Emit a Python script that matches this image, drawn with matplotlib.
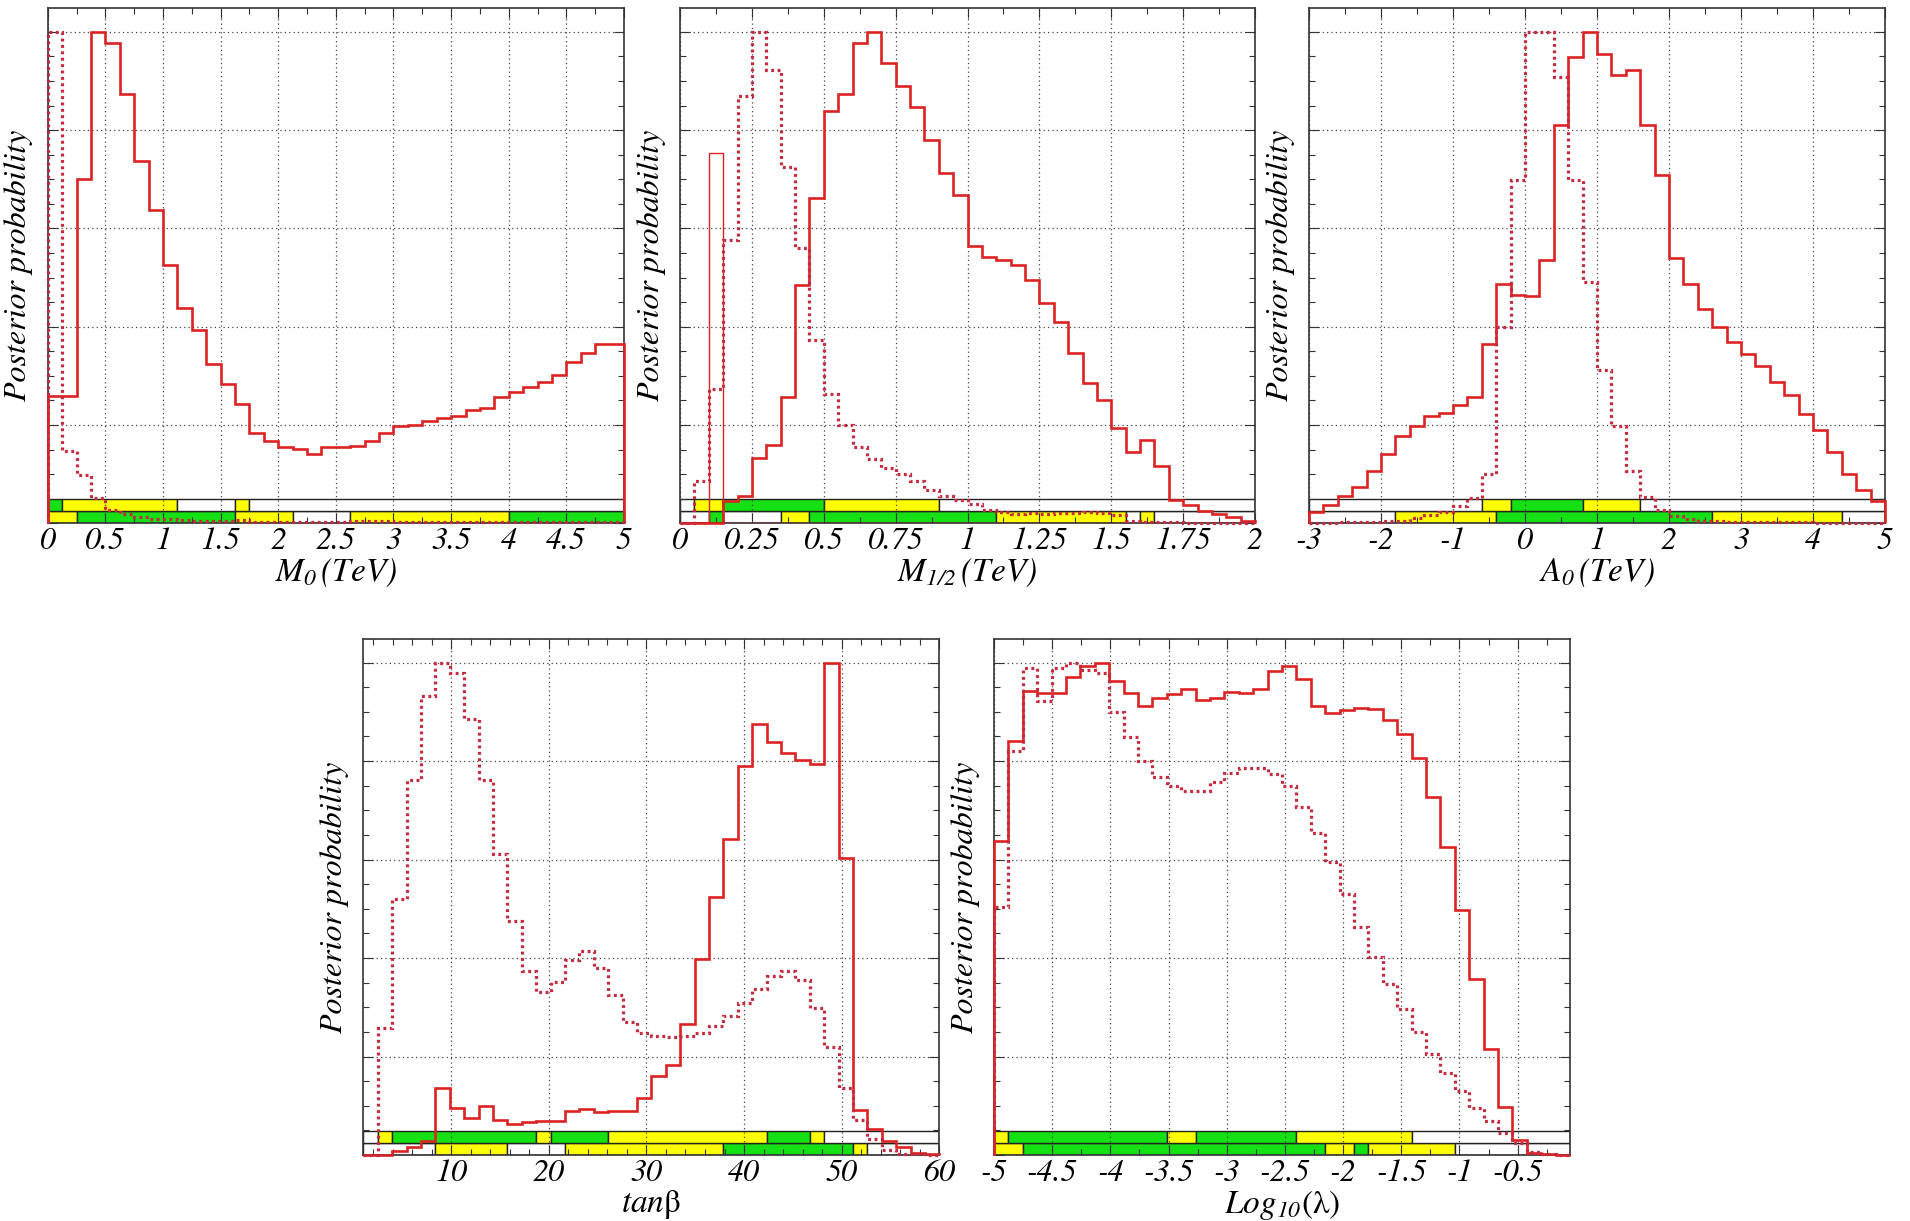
import numpy as np
import matplotlib
matplotlib.use('Agg')
from matplotlib import pyplot as plt
from matplotlib.patches import Rectangle
from matplotlib.ticker import MultipleLocator, FuncFormatter

plt.rcParams['font.family'] = ['STIXGeneral', 'Liberation Serif', 'DejaVu Serif']
plt.rcParams['font.style'] = 'italic'
plt.rcParams['mathtext.fontset'] = 'stix'
plt.rcParams['axes.unicode_minus'] = False

# ---------------- data (40 bins per panel, peak normalised to 1) ----------------
m0_range = (0, 5)
m0_solid = [0.259, 0.259, 0.700, 1.0, 0.977, 0.874, 0.738, 0.638, 0.526, 0.438,
            0.393, 0.324, 0.283, 0.243, 0.183, 0.168, 0.156, 0.152, 0.142, 0.155,
            0.155, 0.158, 0.168, 0.184, 0.198, 0.200, 0.208, 0.214, 0.218, 0.231,
            0.235, 0.256, 0.267, 0.277, 0.287, 0.302, 0.328, 0.347, 0.365, 0.365]
m0_dotted = [1.0, 0.147, 0.099, 0.051, 0.028, 0.018, 0.012, 0.009, 0.008, 0.006,
             0.005, 0.004, 0.004, 0.007, 0.003, 0.002, 0.002, 0.002, 0.002, 0.002,
             0.002, 0.004, 0.004, 0.004, 0.003, 0.003, 0.003, 0.003, 0.003, 0.003,
             0.003, 0.003, 0.002, 0.002, 0.002, 0.002, 0.002, 0.002, 0.002, 0.002]
# credible-interval bars: bin-index breaks and colours (g=68%, y=95%, w=outside)
m0_upper = ([0, 1, 9, 13, 14, 40], 'gywyw')
m0_lower = ([0, 2, 13, 17, 21, 32, 40], 'ygywyg')

m12_range = (0, 2)
m12_solid = [0, 0, 0, 0.046, 0.056, 0.132, 0.159, 0.257, 0.485, 0.661,
             0.840, 0.873, 0.978, 1.0, 0.937, 0.890, 0.847, 0.781, 0.712, 0.669,
             0.564, 0.541, 0.535, 0.525, 0.495, 0.448, 0.410, 0.347, 0.285, 0.251,
             0.193, 0.145, 0.170, 0.117, 0.048, 0.038, 0.025, 0.019, 0.012, 0.005]
m12_spike = [0, 0, 0.753] + [0] * 37
m12_dotted = [0, 0.086, 0.274, 0.577, 0.870, 1.0, 0.923, 0.726, 0.561, 0.373,
              0.264, 0.201, 0.155, 0.130, 0.113, 0.100, 0.086, 0.067, 0.055, 0.048,
              0.040, 0.028, 0.023, 0.019, 0.020, 0.018, 0.020, 0.021, 0.022, 0.020,
              0.017, 0.005, 0.003, 0.002, 0.002, 0.001, 0.001, 0.001, 0.001, 0.001]
m12_upper = ([0, 1, 3, 10, 18, 40], 'wygyw')
m12_lower = ([0, 2, 3, 7, 9, 22, 31, 32, 33, 40], 'wgwygywyw')

a0_range = (-3, 5)
a0_solid = [0.023, 0.037, 0.055, 0.074, 0.106, 0.141, 0.178, 0.198, 0.218, 0.225,
            0.241, 0.258, 0.365, 0.486, 0.464, 0.462, 0.535, 0.810, 0.948, 1.0,
            0.954, 0.912, 0.922, 0.810, 0.709, 0.539, 0.486, 0.436, 0.399, 0.369,
            0.344, 0.321, 0.288, 0.262, 0.223, 0.189, 0.145, 0.101, 0.067, 0.045]
a0_dotted = [0.001, 0.001, 0.002, 0.002, 0.003, 0.004, 0.005, 0.011, 0.017, 0.024,
             0.036, 0.051, 0.101, 0.399, 0.698, 1.0, 1.0, 0.908, 0.699, 0.491,
             0.311, 0.197, 0.107, 0.054, 0.027, 0.015, 0.009, 0.005, 0.004, 0.003,
             0.003, 0.002, 0.002, 0.002, 0.002, 0.001, 0.001, 0.001, 0.001, 0.001]
a0_upper = ([0, 12, 14, 19, 23, 40], 'wygyw')
a0_lower = ([0, 6, 13, 28, 37, 40], 'wygyw')

tb_range = (1, 60)
tb_solid = [0.0, 0.001, 0.009, 0.016, 0.028, 0.136, 0.096, 0.075, 0.100, 0.071,
            0.063, 0.068, 0.069, 0.069, 0.089, 0.094, 0.088, 0.090, 0.089, 0.115,
            0.160, 0.183, 0.266, 0.399, 0.525, 0.641, 0.791, 0.875, 0.838, 0.817,
            0.803, 0.795, 1.0, 0.604, 0.091, 0.052, 0.029, 0.016, 0.005, 0.002]
tb_dotted = [0.0, 0.258, 0.519, 0.762, 0.932, 1.0, 0.979, 0.885, 0.762, 0.611,
             0.475, 0.373, 0.332, 0.352, 0.397, 0.414, 0.379, 0.324, 0.270, 0.248,
             0.242, 0.240, 0.242, 0.248, 0.262, 0.283, 0.308, 0.338, 0.364, 0.374,
             0.355, 0.298, 0.220, 0.136, 0.072, 0.033, 0.011, 0.003, 0.002, 0.001]
tb_upper = ([0, 1, 2, 12, 13, 17, 28, 31, 32, 40], 'wygygygyw')
tb_lower = ([0, 5, 10, 14, 25, 34, 35, 40], 'wywygyw')

ll_range = (-5, -0.05)
ll_solid = [0.638, 0.841, 0.943, 0.939, 0.939, 0.970, 0.994, 1.0, 0.962, 0.939,
            0.911, 0.929, 0.936, 0.947, 0.925, 0.929, 0.940, 0.939, 0.947, 0.984,
            0.994, 0.966, 0.911, 0.898, 0.904, 0.907, 0.906, 0.884, 0.855, 0.807,
            0.727, 0.625, 0.497, 0.358, 0.215, 0.098, 0.031, 0.005, 0.002, 0.001]
ll_dotted = [0.504, 0.821, 0.990, 0.923, 0.990, 1.0, 0.985, 0.978, 0.900, 0.849,
             0.800, 0.768, 0.749, 0.739, 0.739, 0.758, 0.776, 0.787, 0.787, 0.774,
             0.749, 0.707, 0.653, 0.595, 0.531, 0.464, 0.402, 0.347, 0.296, 0.249,
             0.205, 0.166, 0.131, 0.096, 0.070, 0.045, 0.025, 0.007, 0.003, 0.001]
ll_upper = ([0, 1, 12, 14, 21, 29, 40], 'ygygyw')
ll_lower = ([0, 2, 23, 25, 26, 32, 40], 'ygygyw')

# ---------------- style ----------------
RED = '#dc2323'
RED_DOT = '#c42a40'
FILL = {'g': '#14e014', 'y': '#ffff00', 'w': 'white'}
BAND_H = 0.0244
W, H = 1910, 1221


def box(left, top, right, bottom):
    return [left / W, (H - bottom) / H, (right - left) / W, (bottom - top) / H]


def fmt(v, pos):
    return '%g' % (round(v, 6) + 0.0)


def panel(ax, rng, solid, dotted, upper, lower, major, minor, xlabel, spike=None):
    edges = np.linspace(rng[0], rng[1], len(solid) + 1)

    for row, (idx, cols) in enumerate([lower, upper]):
        for a, b, c in zip(idx[:-1], idx[1:], cols):
            ax.add_patch(Rectangle((edges[a], row * BAND_H), edges[b] - edges[a], BAND_H,
                                   facecolor=FILL[c], edgecolor='#222222', lw=1.0, zorder=1))

    ax.stairs(solid, edges, baseline=0, color=RED, lw=1.9, zorder=3, clip_on=False)
    if spike is not None:
        ax.stairs(spike, edges, baseline=0, color=RED, lw=1.0, zorder=3)
    ax.stairs(dotted, edges, baseline=0, color=RED_DOT, lw=2.3,
              linestyle=(0, (0.9, 1.1)), zorder=3.1, clip_on=False)

    ax.set_xlim(rng)
    ax.set_ylim(0, 1.048)
    ax.set_axisbelow('line')
    ax.xaxis.set_major_locator(MultipleLocator(major))
    ax.xaxis.set_minor_locator(MultipleLocator(minor))
    ax.xaxis.set_major_formatter(FuncFormatter(fmt))
    ax.yaxis.set_major_locator(MultipleLocator(0.2))
    ax.yaxis.set_minor_locator(MultipleLocator(0.05))
    ax.yaxis.set_major_formatter(FuncFormatter(lambda v, p: ''))
    ax.grid(True, which='major', color='#444444', linestyle=(0, (1, 2.5)), lw=0.9)
    ax.tick_params(which='both', direction='in', top=True, right=True,
                   color='#333333', width=0.8)
    ax.tick_params(which='major', length=7, labelsize=23, pad=3)
    ax.tick_params(which='minor', length=4)
    for s in ax.spines.values():
        s.set_linewidth(1.2)
        s.set_color('#333333')
    ax.set_ylabel('Posterior probability', fontsize=23, labelpad=7)
    ax.set_xlabel(xlabel, fontsize=24, labelpad=0, fontstyle='normal')


fig = plt.figure(figsize=(W / 100, H / 100), dpi=100)

ax1 = fig.add_axes(box(47.7, 8.3, 624, 523.3))
panel(ax1, m0_range, m0_solid, m0_dotted, m0_upper, m0_lower, 0.5, 0.25,
      r'$M_{\mathit{0}}\,(TeV)$')

ax2 = fig.add_axes(box(680, 8.3, 1255, 523.3))
panel(ax2, m12_range, m12_solid, m12_dotted, m12_upper, m12_lower, 0.25, 0.125,
      r'$M_{\mathit{1/2}}\,(TeV)$', spike=m12_spike)

ax3 = fig.add_axes(box(1309, 8.3, 1885, 523.3))
panel(ax3, a0_range, a0_solid, a0_dotted, a0_upper, a0_lower, 1, 0.5,
      r'$A_{\mathit{0}}\,(TeV)$')

ax4 = fig.add_axes(box(363.3, 639, 939.3, 1155))
panel(ax4, tb_range, tb_solid, tb_dotted, tb_upper, tb_lower, 10, 2,
      r'$tan$β')

ax5 = fig.add_axes(box(994, 639, 1570, 1155))
panel(ax5, ll_range, ll_solid, ll_dotted, ll_upper, ll_lower, 0.5, 0.25,
      r'$Log_{\mathit{10}}$(λ)')

fig.savefig('out.png', dpi=100, facecolor='white')
